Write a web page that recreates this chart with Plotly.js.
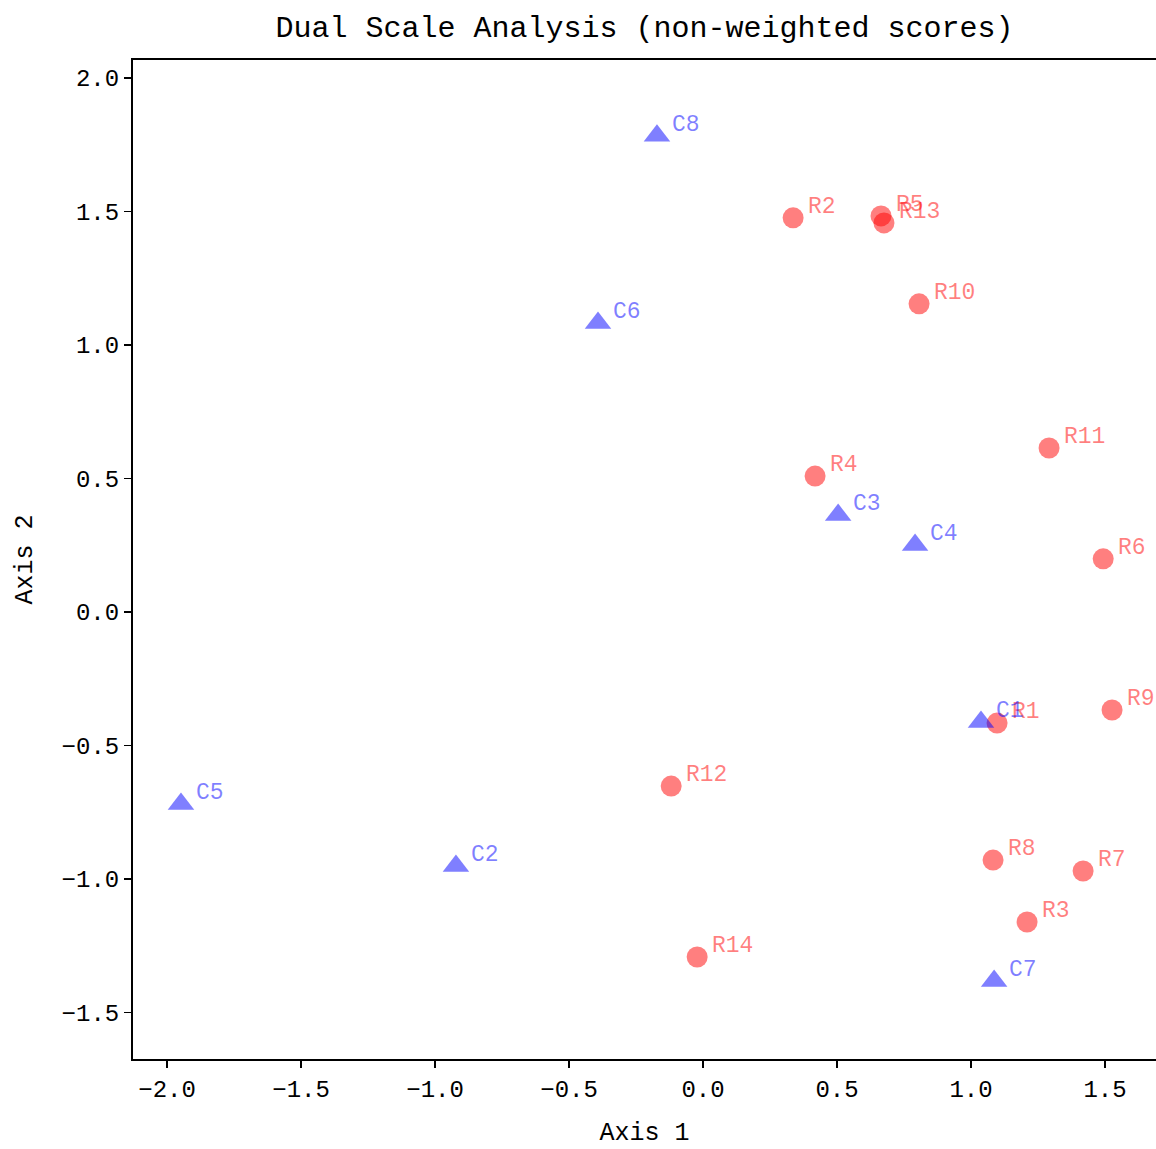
<!DOCTYPE html>
<html>
<head>
<meta charset="utf-8">
<script src="https://cdn.plot.ly/plotly-3.0.1.min.js"></script>
<style>
html,body{margin:0;padding:0;background:#fff;}
#chart{width:1156px;height:1149px;}
</style>
</head>
<body>
<div id="chart"></div>
<script>
// Row scores (red circles)
const rowLabels = ["R1","R2","R3","R4","R5","R6","R7","R8","R9","R10","R11","R12","R13","R14"];
const rowX = [1.097, 0.336, 1.209, 0.418, 0.664, 1.493, 1.418, 1.082, 1.526, 0.806, 1.291, -0.119, 0.675, -0.022];
const rowY = [-0.416, 1.476, -1.161, 0.509, 1.483, 0.199, -0.970, -0.929, -0.367, 1.154, 0.614, -0.652, 1.457, -1.292];

// Column scores (blue triangles)
const colLabels = ["C1","C2","C3","C4","C5","C6","C7","C8"];
const colX = [1.037, -0.922, 0.504, 0.791, -1.948, -0.392, 1.086, -0.172];
const colY = [-0.412, -0.951, 0.363, 0.251, -0.719, 1.082, -1.382, 1.783];

const FONT = "Liberation Mono, DejaVu Sans Mono, monospace";
const red = "rgba(255,0,0,0.5)";
const blue = "rgba(0,0,255,0.5)";

const traces = [
  {type:"scatter", mode:"markers", x:rowX, y:rowY, name:"rows",
   marker:{symbol:"circle", size:21, color:red, line:{width:0}}, hoverinfo:"skip"},
  {type:"scatter", mode:"markers", x:colX, y:colY, name:"cols",
   marker:{symbol:"triangle-up", size:23, color:blue, line:{width:0}}, hoverinfo:"skip"}
];

const annotations = [];
rowLabels.forEach((t,i)=>annotations.push({x:rowX[i], y:rowY[i], text:t, showarrow:false,
  xanchor:"left", yanchor:"middle", xshift:13, yshift:11, font:{family:FONT, size:23, color:red}}));
colLabels.forEach((t,i)=>annotations.push({x:colX[i], y:colY[i], text:t, showarrow:false,
  xanchor:"left", yanchor:"middle", xshift:13, yshift:11, font:{family:FONT, size:23, color:blue}}));

const layout = {
  width:1156, height:1149,
  margin:{l:133, r:0, t:60, b:90},
  paper_bgcolor:"#fff", plot_bgcolor:"#fff",
  showlegend:false,
  title:{text:"Dual Scale Analysis (non-weighted scores)", x:0.5, xanchor:"center", xref:"paper", y:0.977, yanchor:"middle",
         font:{family:FONT, size:30, color:"#000"}},
  xaxis:{range:[-2.127, 1.69], tickvals:[-2,-1.5,-1,-0.5,0,0.5,1,1.5], ticktext:["−2.0","−1.5","−1.0","−0.5","0.0","0.5","1.0","1.5"],
         showgrid:false, zeroline:false, showline:true, linecolor:"#000", linewidth:2, mirror:true,
         ticks:"outside", ticklen:7, tickwidth:1.5, tickcolor:"#000",
         tickfont:{family:FONT, size:24, color:"#000"},
         title:{text:"Axis 1", font:{family:FONT, size:25, color:"#000"}, standoff:20}},
  yaxis:{range:[-1.674, 2.067], tickvals:[-1.5,-1,-0.5,0,0.5,1,1.5,2], ticktext:["−1.5","−1.0","−0.5","0.0","0.5","1.0","1.5","2.0"],
         showgrid:false, zeroline:false, showline:true, linecolor:"#000", linewidth:2, mirror:false,
         ticks:"outside", ticklen:7, tickwidth:1.5, tickcolor:"#000",
         tickfont:{family:FONT, size:24, color:"#000"},
         title:{text:"Axis 2", font:{family:FONT, size:25, color:"#000"}, standoff:22}},
  annotations:annotations
};

Plotly.newPlot("chart", traces, layout, {displayModeBar:false, staticPlot:true});
</script>
</body>
</html>
